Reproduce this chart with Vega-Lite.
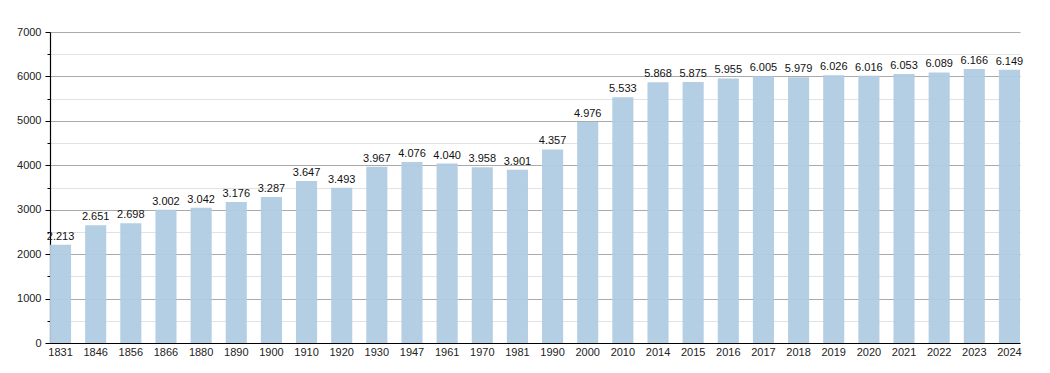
{
  "$schema": "https://vega.github.io/schema/vega-lite/v6.json",
  "width": 970,
  "height": 311,
  "autosize": {"type": "none"},
  "padding": {"left": 50, "top": 32, "right": 30, "bottom": 30},
  "background": "white",
  "config": {
    "view": {"stroke": null},
    "font": "Liberation Sans"
  },
  "data": {
    "values": [
      {"year": "1831", "pop": 2213, "label": "2.213"},
      {"year": "1846", "pop": 2651, "label": "2.651"},
      {"year": "1856", "pop": 2698, "label": "2.698"},
      {"year": "1866", "pop": 3002, "label": "3.002"},
      {"year": "1880", "pop": 3042, "label": "3.042"},
      {"year": "1890", "pop": 3176, "label": "3.176"},
      {"year": "1900", "pop": 3287, "label": "3.287"},
      {"year": "1910", "pop": 3647, "label": "3.647"},
      {"year": "1920", "pop": 3493, "label": "3.493"},
      {"year": "1930", "pop": 3967, "label": "3.967"},
      {"year": "1947", "pop": 4076, "label": "4.076"},
      {"year": "1961", "pop": 4040, "label": "4.040"},
      {"year": "1970", "pop": 3958, "label": "3.958"},
      {"year": "1981", "pop": 3901, "label": "3.901"},
      {"year": "1990", "pop": 4357, "label": "4.357"},
      {"year": "2000", "pop": 4976, "label": "4.976"},
      {"year": "2010", "pop": 5533, "label": "5.533"},
      {"year": "2014", "pop": 5868, "label": "5.868"},
      {"year": "2015", "pop": 5875, "label": "5.875"},
      {"year": "2016", "pop": 5955, "label": "5.955"},
      {"year": "2017", "pop": 6005, "label": "6.005"},
      {"year": "2018", "pop": 5979, "label": "5.979"},
      {"year": "2019", "pop": 6026, "label": "6.026"},
      {"year": "2020", "pop": 6016, "label": "6.016"},
      {"year": "2021", "pop": 6053, "label": "6.053"},
      {"year": "2022", "pop": 6089, "label": "6.089"},
      {"year": "2023", "pop": 6166, "label": "6.166"},
      {"year": "2024", "pop": 6149, "label": "6.149"}
    ]
  },
  "encoding": {
    "x": {
      "field": "year",
      "type": "ordinal",
      "sort": null,
      "scale": {"paddingInner": 0.4, "paddingOuter": 0},
      "axis": {
        "title": null,
        "labelAngle": 0,
        "labelFontSize": 11,
        "labelColor": "#222",
        "labelPadding": 3,
        "ticks": false,
        "domainColor": "#000",
        "domainWidth": 1.2
      }
    },
    "y": {
      "field": "pop",
      "type": "quantitative",
      "scale": {"domain": [0, 7000], "nice": false},
      "axis": {
        "title": null,
        "values": [0, 500, 1000, 1500, 2000, 2500, 3000, 3500, 4000, 4500, 5000, 5500, 6000, 6500, 7000],
        "labelExpr": "datum.value % 1000 === 0 ? datum.value : ''",
        "labelFontSize": 11,
        "labelColor": "#222",
        "labelPadding": 4,
        "tickColor": "#000",
        "tickSize": {"condition": {"test": "datum.value % 1000 === 0", "value": 5}, "value": 3},
        "gridColor": {"condition": {"test": "datum.value % 1000 === 0", "value": "#aaaaaa"}, "value": "#e2e2e2"},
        "gridWidth": 1,
        "domainColor": "#000",
        "domainWidth": 1.2
      }
    }
  },
  "layer": [
    {
      "mark": {"type": "bar", "color": "#b0cbe3", "opacity": 0.95}
    },
    {
      "mark": {"type": "text", "baseline": "bottom", "dy": -3, "fontSize": 11, "color": "#111"},
      "encoding": {"text": {"field": "label"}}
    }
  ]
}
